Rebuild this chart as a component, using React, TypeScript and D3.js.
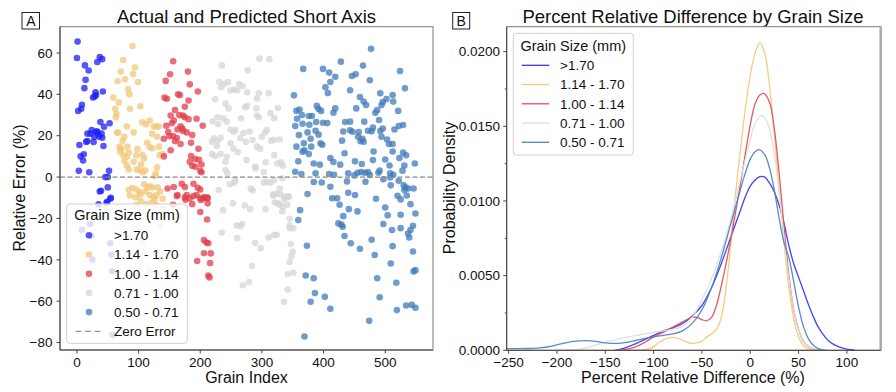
import React from "react";
import * as d3 from "d3";

type P = [number, number];

// ---- Panel A: relative error by grain index, per grain-size class ----
const gBlue: P[] = [
  [1,65.5],[0,57.6],[2,32],[7,33],[4,15.5],[3,3],[6,10],[11,11],[10,8],[8,35],[13,54],[14,47],[12,43],[19,51.5],
  [15,17],[17,21],[20,2.3],[17,17.4],[22,21],[24,22.7],[27,17],[28,19.5],[26,38.5],[29,39],[31,39.7],[30,41],
  [33,55.6],[37,58],[41,57],[42,41.4],[31,22],[34,21],[36,19.5],[38,26.6],[44,24.3],[41,19],[43,15],[53,26],
  [40,21],[33,22],[46,0],[52,3],[50,0],[37,-7],[50,-5],[55,-10],[35,-13.2],[48,-12.4],[54,-10.5],[39,-6.6],
  [49,-12],[21,-22.7],[8,-25.5],[25,-40],[54,-32],[56,-37.6],[57,-45.5],[58,-76.3],[23,-28.5]
];
const gYellow: P[] = [
  [90,63.4],[75,56.6],[94,53],[71,51],[78,47.3],[66,46.3],[99,46],[91,49.8],[83,42.4],[85,40],[59,38.4],[68,36],
  [62,33],[86,33],[103,34.2],[64,30.6],[63,28.9],[65,21.5],[67,21.5],[81,24.5],[92,21.5],[106,26.5],[112,25.5],
  [118,27.3],[125,24.4],[129,24.4],[133,24.4],[122,21],[130,19.5],[114,16.6],[118,14.5],[122,13.9],[72,13.5],
  [77,19.5],[74,17.6],[69,14.7],[70,12.3],[82,14.7],[84,11.8],[81,9.8],[75,10.5],[77,7.9],[81,5.6],[84,3.7],
  [92,7.4],[96,10.5],[98,13.5],[106,10.8],[109,8.9],[104,6.1],[97,3.7],[103,3.1],[107,2.3],[111,3.2],[133,14.7],
  [134,10.6],[139,11.1],[130,4.7],[128,1.8],[126,0.5],[84,-6.3],[90,-5.2],[96,-6],[101,-7.1],[109,-3.5],[114,-5],
  [118,-4.4],[122,-5],[131,-5],[129,-8.7],[118,-8.7],[103,-8.4],[111,-7],[124,-9.7],[135,-7],[86,-8.9],[95,-9.8],
  [103,-11.5],[112,-13.1],[121,-12.4],[126,-11],[139,-10.5],[129,-13.7],[96,-13.7],[139,-15.5],[135,-23.9],
  [106,-31],[137,-40],[117,-45.5]
];
const gRed: P[] = [
  [156,56],[180,51],[151,49.7],[144,46.5],[183,44.8],[196,41.4],[142,38.4],[146,37.9],[164,40],[167,39.7],[181,37],
  [175,34],[159,32.4],[152,29.8],[157,27.3],[166,30],[172,29.8],[175,28.9],[181,28],[194,28.2],[204,24.8],[145,24.8],
  [154,26],[168,24.5],[171,23.5],[163,23],[172,22.3],[148,21.8],[150,19.8],[141,18.5],[156,19.8],[162,18.9],[178,21.6],
  [187,20.3],[159,17.4],[168,16],[185,16.6],[152,13],[141,10],[197,13.7],[185,10.2],[192,8.7],[183,7.4],[198,8.4],
  [187,5.5],[202,6.1],[192,5],[200,3],[202,2.3],[147,-5.5],[157,-4.8],[170,-3.2],[175,-4.8],[189,-3.2],[196,-5.2],
  [200,-6],[163,-8.7],[178,-8.7],[194,-8.7],[206,-9.8],[211,-9.8],[183,-10.3],[162,-9.2],[175,-9.8],[189,-9.2],
  [200,-10.2],[206,-10.2],[212,-10.2],[156,-13.4],[187,-13.1],[201,-11.1],[212,-12.7],[176,-11],[200,-16.9],
  [211,-20.5],[206,-30.5],[210,-31.6],[213,-32],[206,-36.8],[217,-36.9],[195,-40.6],[216,-41.6],[213,-47.6],[215,-48.5]
];
const gGray: P[] = [
  [235,54],[296,57.3],[312,57],[277,51.6],[231,46],[245,46],[234,43.4],[239,45],[263,45],[255,42.3],[249,42],[260,42],
  [269,44],[276,41],[295,40.5],[311,40.5],[224,37.6],[292,38],[241,35.5],[246,33.2],[276,34.4],[273,33.7],[291,33.2],
  [326,33.4],[314,31],[237,28.4],[228,28.9],[220,27],[229,25.6],[243,26.8],[249,23],[266,28.4],[292,29.8],[295,28.9],
  [320,28.5],[257,22.7],[254,21.8],[270,21.3],[280,22],[308,22.7],[305,21.6],[300,19.5],[233,19],[222,18.7],[219,17],
  [228,17.4],[227,15],[249,16.3],[265,18.9],[274,17],[285,17.9],[315,17.6],[320,17.9],[329,18.2],[219,11.1],[224,10.2],
  [233,11.1],[243,9.8],[241,7.4],[254,13.7],[261,12],[275,8.2],[292,14.7],[297,13.7],[289,5],[303,2.4],[306,7.2],
  [320,10.6],[325,6.6],[331,7.1],[334,5.5],[241,3.4],[244,1.8],[257,-1.5],[255,-2.7],[248,-3.5],[230,-6.3],[282,-5.6],
  [285,-6.5],[303,-2.7],[308,-2.3],[314,-2.7],[320,-1.5],[329,-5.5],[290,4.2],[333,-0.6],[318,-8.4],[324,-7.9],
  [337,-9.5],[342,-9.8],[336,-10.8],[319,-8.9],[330,-8.4],[341,-9.4],[344,-9.4],[321,-12.3],[326,-12.7],[334,-14.4],
  [341,-13.4],[333,-16.6],[329,-13.4],[253,-12.7],[272,-13.7],[281,-15.5],[306,-15.6],[237,-16],[345,-20.2],
  [345,-23.4],[259,-23.4],[268,-22.7],[265,-23.9],[351,-24.8],[345,-24.7],[235,-26.8],[260,-29.5],[320,-28],
  [324,-27.9],[311,-29.2],[298,-34.4],[289,-31.9],[347,-32.4],[350,-36],[348,-38.2],[345,-41],[284,-43],[351,-46.3],
  [342,-47],[279,-50.8],[269,-52.3],[342,-54.4],[336,-60.3]
];
const gSteel: P[] = [
  [477,62],[367,52.3],[399,52.3],[428,55.8],[464,53.9],[524,51.3],[409,50.5],[419,48.5],[446,48.9],[452,49.7],
  [475,46.8],[411,46],[403,43.4],[407,40.6],[443,42],[532,42.9],[352,39.5],[492,40.5],[459,38.7],[502,37.7],
  [496,36.3],[494,34.8],[487,32.4],[484,31.1],[469,34.8],[453,33.2],[465,36.5],[389,34.4],[392,32.9],[356,32],
  [361,32.7],[396,32],[416,31.1],[419,33.2],[513,36.5],[521,32],[512,39.7],[490,27.6],[466,26.8],[435,26.6],
  [443,26.8],[381,29.5],[376,29.5],[365,30],[357,28.2],[354,24.7],[366,25.8],[377,25.3],[388,26.6],[399,26.3],
  [406,26.1],[432,22],[443,22.6],[447,21.9],[457,21.8],[472,22.4],[480,23.9],[496,23.5],[515,23],[522,24.7],
  [529,25.2],[492,22.3],[478,22.1],[374,21.6],[360,20.3],[387,22.4],[392,20.5],[379,18.5],[395,16.3],[398,15.6],
  [368,16.3],[356,14.7],[380,14.7],[430,17.6],[456,19.5],[460,17.3],[465,17.1],[463,18.5],[494,19.5],[503,18.2],
  [506,16],[512,16],[481,12.4],[512,12.4],[529,11.8],[534,10.5],[369,13],[366,12.3],[359,7.6],[376,11.1],[384,6.6],
  [394,6],[411,9.2],[416,7.3],[427,6],[434,11.5],[451,7.6],[462,6.3],[480,8.2],[500,8.5],[507,5.6],[531,5.6],
  [548,6.6],[523,9.2],[354,2.6],[364,1.5],[387,1.8],[409,1.5],[417,1.1],[440,1.8],[450,0.8],[455,2.1],[461,2.4],
  [467,2.1],[472,2.4],[475,1],[489,2.1],[491,3.1],[508,1.8],[513,1.1],[528,3.1],[384,-2.4],[397,-2.6],[411,-4.7],
  [438,-2.1],[468,-2.3],[497,-1.1],[508,-0.2],[509,-4],[522,-1.8],[530,-4],[533,-5],[537,-5.5],[546,-5.5],
  [531,-6.3],[374,-8.2],[440,-7.6],[451,-8.7],[520,-9],[414,-10.2],[422,-10.2],[485,-10.5],[525,-10.8],[535,-8.9],
  [426,-13.4],[441,-15.5],[455,-16.6],[500,-14.7],[541,-13.1],[549,-17.6],[504,-18.5],[525,-18.2],[432,-18.9],
  [362,-16],[359,-20.8],[424,-22.4],[429,-23],[431,-24],[497,-22.7],[511,-25.6],[525,-24.7],[541,-25.6],[545,-23.5],
  [537,-27.3],[539,-29.2],[434,-28.5],[444,-32],[459,-34.7],[373,-33.2],[478,-30.3],[512,-33.4],[483,-37.7],
  [545,-36],[509,-41.8],[371,-47.6],[384,-48.9],[487,-48.9],[549,-45],[546,-45.6],[518,-51.1],[386,-56.1],
  [402,-57.9],[491,-58.1],[379,-60.3],[411,-63.7],[519,-64.3],[534,-62.1],[543,-61.8],[549,-63.2],[474,-69.5],[369,-77.1]
];

// ---- Panel B: density curves ----
const kBlue: P[] = [
  [-140,0],[-130,0.00015],[-120,0.0004],[-110,0.0007],[-100,0.001],[-90,0.0013],[-80,0.0015],[-70,0.0018],
  [-60,0.0023],[-50,0.003],[-40,0.0042],[-30,0.0058],[-20,0.0076],[-10,0.0094],[-5,0.0103],[0,0.011],[5,0.0114],
  [10,0.01163],[15,0.0116],[20,0.0112],[25,0.0106],[30,0.0097],[35,0.0085],[40,0.007],[45,0.0058],[50,0.0049],
  [55,0.004],[60,0.0031],[65,0.0023],[70,0.0016],[75,0.0011],[80,0.0007],[85,0.00045],[90,0.00028],[95,0.00016],
  [100,0.00008],[108,0.00002]
];
const kYellow: P[] = [
  [-125,0],[-110,0.00004],[-100,0.00025],[-95,0.0005],[-90,0.0007],[-85,0.00082],[-80,0.00087],[-75,0.00082],
  [-70,0.00068],[-65,0.00053],[-60,0.00047],[-55,0.0005],[-50,0.0006],[-45,0.0009],[-40,0.0011],[-35,0.0014],
  [-30,0.0022],[-25,0.0042],[-20,0.0072],[-15,0.0106],[-10,0.0135],[-5,0.0162],[0,0.0184],[5,0.0199],[10,0.0206],
  [15,0.0199],[20,0.0177],[25,0.0144],[30,0.0107],[35,0.0072],[40,0.0042],[45,0.0021],[50,0.0009],[55,0.0003],
  [60,0.0001],[68,0]
];
const kRed: P[] = [
  [-140,0],[-130,0.00005],[-120,0.0002],[-110,0.0005],[-100,0.0009],[-90,0.0012],[-80,0.00155],[-70,0.0019],
  [-60,0.00222],[-55,0.0022],[-50,0.00205],[-45,0.00198],[-40,0.0022],[-35,0.003],[-30,0.0043],[-25,0.0058],
  [-20,0.0075],[-15,0.0093],[-10,0.0112],[-5,0.0132],[0,0.0151],[5,0.0165],[10,0.0171],[14,0.0172],[20,0.0166],
  [25,0.0148],[30,0.0118],[35,0.0083],[40,0.005],[45,0.0027],[50,0.0014],[55,0.0006],[60,0.00025],[65,0.0001],
  [75,0]
];
const kGray: P[] = [
  [-200,0],[-180,0.00005],[-170,0.00015],[-160,0.00035],[-150,0.00055],[-140,0.0007],[-130,0.00085],[-120,0.00097],
  [-110,0.0011],[-100,0.0012],[-90,0.0013],[-80,0.0014],[-70,0.0016],[-60,0.0022],[-50,0.0034],[-40,0.0048],
  [-30,0.0066],[-20,0.0088],[-10,0.0115],[-5,0.0128],[0,0.0141],[5,0.0152],[11,0.0157],[15,0.0156],[20,0.0148],
  [25,0.0131],[30,0.0105],[35,0.0075],[40,0.0048],[45,0.0027],[50,0.0014],[55,0.0006],[60,0.00025],[65,0.0001],[72,0]
];
const kSteel: P[] = [
  [-252,0.00011],[-240,0.00011],[-230,0.00012],[-220,0.00015],[-210,0.00022],[-200,0.00036],[-190,0.00052],
  [-180,0.00062],[-170,0.00065],[-160,0.0006],[-150,0.0005],[-140,0.00046],[-130,0.00052],[-120,0.00064],
  [-110,0.00078],[-100,0.0009],[-90,0.001],[-80,0.0011],[-70,0.0013],[-60,0.0018],[-50,0.0027],[-40,0.0042],
  [-30,0.0062],[-20,0.0085],[-10,0.0108],[-5,0.0119],[0,0.0128],[5,0.0133],[9,0.01344],[15,0.0131],[20,0.0122],
  [25,0.0107],[30,0.0088],[35,0.0072],[40,0.0062],[45,0.0046],[50,0.0029],[55,0.0016],[60,0.0008],[65,0.00035],
  [70,0.00013],[75,0.00003],[80,0]
];

const classLabels = [">1.70", "1.14 - 1.70", "1.00 - 1.14", "0.71 - 1.00", "0.50 - 0.71"];
const dotColors = ["#1f1ff5", "#f3c77a", "#e23d4c", "#d6d6d6", "#3f7bb8"];
const lineColors = ["#3a3af2", "#f2c97e", "#e4515c", "#dedede", "#4d87c0"];
const yTicksA = [-80, -60, -40, -20, 0, 20, 40, 60];
const xTicksA = [0, 100, 200, 300, 400, 500];
const xTicksB = [-250, -200, -150, -100, -50, 0, 50, 100];
const yTicksB = [0, 0.005, 0.01, 0.015, 0.02];
const yMinorB = [0.0025, 0.0075, 0.0125, 0.0175];

const FONT = "'Liberation Sans', Arial, 'DejaVu Sans', sans-serif";

export default function App() {
  const groups = [gBlue, gYellow, gRed, gGray, gSteel];
  const curves = [kBlue, kYellow, kRed, kGray, kSteel];

  const xA = d3.scaleLinear().domain([-27.5, 577.5]).range([60, 433]);
  const yA = d3.scaleLinear().domain([-83.6, 72.7]).range([350, 26.7]);
  const xB = d3.scaleLinear().domain([-252, 135]).range([506.7, 880.7]);
  const yB = d3.scaleLinear().domain([0, 0.02167]).range([350.3, 26.7]);

  const line = d3
    .line<P>()
    .x((d) => xB(d[0]))
    .y((d) => yB(d[1]))
    .curve(d3.curveCatmullRom.alpha(0.5));

  const axisColor = "#444";
  const tickFont = 13.5;

  return (
    <svg width={896} height={392} style={{ position: "absolute", left: 0, top: 0, fontFamily: FONT }}>
      <rect width={896} height={392} fill="#fff" />
      <defs>
        <clipPath id="clipA"><rect x={60} y={26.7} width={373} height={323.3} /></clipPath>
        <clipPath id="clipB"><rect x={506.7} y={26.7} width={374} height={323.6} /></clipPath>
      </defs>

      {/* ---------- Panel A ---------- */}
      <text x={246.5} y={23} textAnchor="middle" fontSize={18.5} fill="#111">Actual and Predicted Short Axis</text>
      <rect x={22} y={12.5} width={17.5} height={16.5} fill="none" stroke="#222" strokeWidth={1} />
      <text x={30.8} y={26} textAnchor="middle" fontSize={14} fill="#111">A</text>

      <g clipPath="url(#clipA)">
        {groups.map((g, gi) =>
          g.map((d, i) => (
            <circle key={`${gi}-${i}`} cx={xA(d[0])} cy={yA(d[1])} r={3.3} fill={dotColors[gi]} fillOpacity={0.75} />
          ))
        )}
        <line x1={60} x2={433} y1={yA(0)} y2={yA(0)} stroke="#888" strokeWidth={1.2} strokeDasharray="5,2.5" />
      </g>

      {/* axes A */}
      <rect x={60} y={26.7} width={373} height={323.3} fill="none" stroke="#777" strokeWidth={1} />
      <line x1={60} x2={60} y1={26.7} y2={350} stroke={axisColor} strokeWidth={1} />
      <line x1={60} x2={433} y1={350} y2={350} stroke={axisColor} strokeWidth={1} />
      {yTicksA.map((t) => (
        <g key={t}>
          <line x1={56.5} x2={60} y1={yA(t)} y2={yA(t)} stroke={axisColor} />
          <text x={52.5} y={yA(t)} dy="0.35em" textAnchor="end" fontSize={tickFont} fill="#111">
            {t < 0 ? `\u2212${Math.abs(t)}` : t}
          </text>
        </g>
      ))}
      {xTicksA.map((t) => (
        <g key={t}>
          <line x1={xA(t)} x2={xA(t)} y1={350} y2={353.5} stroke={axisColor} />
          <text x={xA(t)} y={366.5} textAnchor="middle" fontSize={tickFont} fill="#111">{t}</text>
        </g>
      ))}
      <text x={246.5} y={383} textAnchor="middle" fontSize={16} fill="#111">Grain Index</text>
      <text transform="translate(25,188) rotate(-90)" textAnchor="middle" fontSize={16} fill="#111">Relative Error (%)</text>

      {/* legend A */}
      <rect x={66.7} y={204} width={120.6} height={139.3} rx={3} fill="#fff" fillOpacity={0.8} stroke="#d0d0d0" strokeWidth={1} />
      <text x={127} y={220} textAnchor="middle" fontSize={14.5} fill="#111">Grain Size (mm)</text>
      {classLabels.map((lab, i) => (
        <g key={lab}>
          <circle cx={89} cy={235.3 + i * 19.2} r={3.3} fill={dotColors[i]} fillOpacity={0.75} />
          <text x={114} y={235.3 + i * 19.2} dy="0.36em" fontSize={13.5} fill="#111">{lab}</text>
        </g>
      ))}
      <line x1={75.5} x2={100.5} y1={331.3} y2={331.3} stroke="#999" strokeWidth={1.3} strokeDasharray="6,3.5" />
      <text x={114} y={331.3} dy="0.36em" fontSize={13.5} fill="#111">Zero Error</text>

      {/* ---------- Panel B ---------- */}
      <text x={693} y={23} textAnchor="middle" fontSize={18.5} fill="#111">Percent Relative Difference by Grain Size</text>
      <rect x={452.7} y={12.5} width={17} height={16.5} fill="none" stroke="#222" strokeWidth={1} />
      <text x={461.2} y={26} textAnchor="middle" fontSize={14} fill="#111">B</text>

      <g clipPath="url(#clipB)">
        {curves.map((c, i) => (
          <path key={i} d={line(c) || ""} fill="none" stroke={lineColors[i]} strokeWidth={1.3} strokeOpacity={0.95} />
        ))}
      </g>

      <rect x={506.7} y={26.7} width={374} height={323.6} fill="none" stroke="#777" strokeWidth={1} />
      <line x1={880.7} x2={880.7} y1={26.7} y2={350.3} stroke="#aaa" strokeWidth={2.5} />
      <line x1={506.7} x2={506.7} y1={26.7} y2={350.3} stroke={axisColor} strokeWidth={1} />
      <line x1={506.7} x2={880.7} y1={350.3} y2={350.3} stroke={axisColor} strokeWidth={1} />
      {yTicksB.map((t) => (
        <g key={t}>
          <line x1={503.2} x2={506.7} y1={yB(t)} y2={yB(t)} stroke={axisColor} />
          <text x={500} y={yB(t)} dy="0.35em" textAnchor="end" fontSize={tickFont} fill="#111">{t.toFixed(4)}</text>
        </g>
      ))}
      {yMinorB.map((t) => (
        <line key={t} x1={504.7} x2={506.7} y1={yB(t)} y2={yB(t)} stroke={axisColor} />
      ))}
      {xTicksB.map((t) => (
        <g key={t}>
          <line x1={xB(t)} x2={xB(t)} y1={350.3} y2={353.8} stroke={axisColor} />
          <text x={xB(t)} y={366.5} textAnchor="middle" fontSize={tickFont} fill="#111">
            {t < 0 ? `\u2212${Math.abs(t)}` : t}
          </text>
        </g>
      ))}
      <text x={693} y={383} textAnchor="middle" fontSize={16} fill="#111">Percent Relative Difference (%)</text>
      <text transform="translate(455,188) rotate(-90)" textAnchor="middle" fontSize={16} fill="#111">Probability Density</text>

      {/* legend B */}
      <rect x={513.3} y={33.3} width={120} height={121.7} rx={3} fill="#fff" fillOpacity={0.8} stroke="#d0d0d0" strokeWidth={1} />
      <text x={573.3} y={50.5} textAnchor="middle" fontSize={14.5} fill="#111">Grain Size (mm)</text>
      {classLabels.map((lab, i) => (
        <g key={lab}>
          <line x1={521.7} x2={549.3} y1={65.3 + i * 19.25} y2={65.3 + i * 19.25} stroke={lineColors[i]} strokeWidth={1.3} />
          <text x={560} y={65.3 + i * 19.25} dy="0.36em" fontSize={13.5} fill="#111">{lab}</text>
        </g>
      ))}
    </svg>
  );
}
